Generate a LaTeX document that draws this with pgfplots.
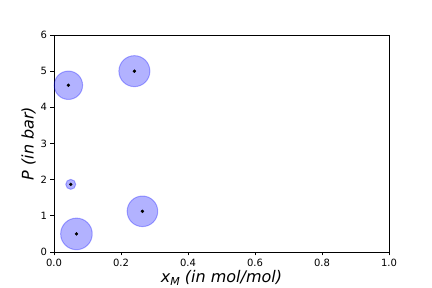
\documentclass[border=0pt]{standalone}
\usepackage{fontspec}
\setmainfont{DejaVu Sans}
\usepackage{pgfplots}
\pgfplotsset{compat=1.18}
\usepackage{pgfplotstable}
\pgfplotstableread{
x y r
0.043 4.61 14.2
0.240 5.00 15.5
0.050 1.87 5.0
0.264 1.125 15.3
0.067 0.50 15.8
}\data
\begin{document}
\begin{tikzpicture}
\useasboundingbox (-54pt,-36pt) rectangle (378pt,252pt);
\begin{axis}[
  at={(0,0)}, anchor=south west,
  scale only axis, width=335pt, height=217pt,
  xmin=0, xmax=1, ymin=0, ymax=6,
  xtick={0,0.2,...,1.0}, ytick={0,1,...,6},
  xticklabel style={/pgf/number format/.cd, fixed, fixed zerofill, precision=1},
  /pgf/number format/assume math mode=true,
  tick label style={font=\fontsize{10}{12}\selectfont},
  tick align=outside, tick pos=left,
  major tick length=3.5pt,
  every tick/.style={line width=0.8pt, black},
  axis line style={line width=0.8pt},
  xlabel={\itshape x\raisebox{-0.35ex}{\fontsize{11}{12}\selectfont M} (in mol/mol)},
  ylabel={\itshape P (in bar)},
  label style={font=\fontsize{16}{18}\selectfont},
  xlabel style={yshift=3pt},
  ylabel style={yshift=-2pt},
  clip=false,
]
\addplot[scatter, only marks, mark=*,
  scatter/use mapped color={draw=blue, fill=blue},
  visualization depends on={\thisrow{r}\as\rad},
  scatter/@pre marker code/.append style={/tikz/mark size=\rad},
  mark options={fill opacity=0.3, draw opacity=0.3, line width=1pt}]
  table[x=x, y=y] {\data};
\addplot[only marks, mark=*, mark size=1.5pt, black] table[x=x, y=y] {\data};
\end{axis}
\end{tikzpicture}
\end{document}
